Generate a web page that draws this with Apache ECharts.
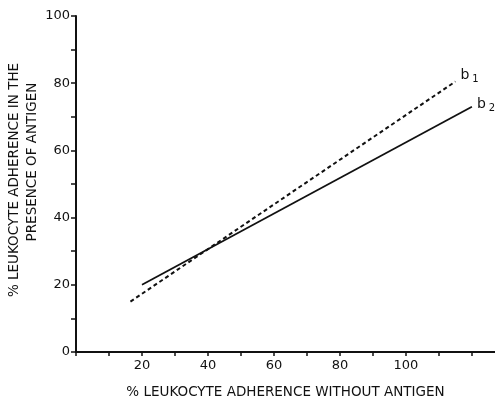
<!DOCTYPE html>
<html>
<head>
<meta charset="utf-8">
<script src="https://cdn.jsdelivr.net/npm/echarts@6/dist/echarts.min.js"></script>
<style>html,body{margin:0;padding:0;background:#fff}#c{width:495px;height:401px}</style>
</head>
<body>
<div id="c"></div>
<script>
var xLabels = [20, 40, 60, 80, 100];
var yLabels = [0, 20, 40, 60, 80, 100];
var b1X = [16.5, 115];
var b1Y = [15, 80.5];
var b2X = [20, 120];
var b2Y = [20, 73];
var xTitle = '% LEUKOCYTE ADHERENCE WITHOUT ANTIGEN';
var yTitle1 = '% LEUKOCYTE ADHERENCE IN THE';
var yTitle2 = 'PRESENCE OF ANTIGEN';

function pairs(xs, ys) { return xs.map(function (x, i) { return [x, ys[i]]; }); }

var FONT = 'DejaVu Sans';
var chart = echarts.init(document.getElementById('c'));
chart.setOption({
  animation: false,
  backgroundColor: '#fff',
  textStyle: { fontFamily: FONT, color: '#111' },
  grid: { left: 76, right: 0, top: 16, bottom: 49, containLabel: false, outerBoundsMode: 'none' },
  xAxis: {
    type: 'value', min: 0, max: 127, interval: 10,
    splitLine: { show: false },
    axisLine: { lineStyle: { color: '#111', width: 2 } },
    axisTick: { show: true, length: 4, lineStyle: { color: '#111', width: 1.5 } },
    axisLabel: {
      margin: 7, fontSize: 13, color: '#111', fontFamily: FONT,
      showMinLabel: true, showMaxLabel: false,
      formatter: function (v) { return xLabels.indexOf(v) >= 0 ? String(v) : ''; }
    },
    name: xTitle, nameLocation: 'middle', nameGap: 33,
    nameTextStyle: { fontSize: 13.5, color: '#111', fontFamily: FONT }
  },
  yAxis: {
    type: 'value', min: 0, max: 100, interval: 10,
    splitLine: { show: false },
    axisLine: { lineStyle: { color: '#111', width: 2 } },
    axisTick: { show: true, length: 5, lineStyle: { color: '#111', width: 1.5 } },
    axisLabel: {
      margin: 6, fontSize: 13, color: '#111', fontFamily: FONT,
      formatter: function (v) { return yLabels.indexOf(v) >= 0 ? String(v) : ''; }
    },
    name: '{l1|' + yTitle1 + '}\n{l2|' + yTitle2 + '}', nameLocation: 'middle', nameGap: 35, nameRotate: 90,
    nameMoveOverlap: false,
    nameTextStyle: {
      fontSize: 13.5, color: '#111', fontFamily: FONT, align: 'center',
      rich: {
        l1: { fontSize: 13.5, fontFamily: FONT, color: '#111', lineHeight: 18, padding: [0, 0, 0, 8] },
        l2: { fontSize: 13.5, fontFamily: FONT, color: '#111', lineHeight: 18, padding: [0, 0, 0, 44] }
      }
    }
  },
  series: [
    {
      name: 'b1', type: 'line', data: pairs(b1X, b1Y), symbol: 'none',
      lineStyle: { color: '#111', width: 2, type: [4, 3] },
      endLabel: {
        show: true, distance: 5, offset: [0, -6],
        formatter: '{a|b}{s|1}',
        rich: {
          a: { fontSize: 14, color: '#111', fontFamily: FONT },
          s: { fontSize: 10, color: '#111', fontFamily: FONT, padding: [8, 0, 0, 3] }
        }
      }
    },
    {
      name: 'b2', type: 'line', data: pairs(b2X, b2Y), symbol: 'none',
      lineStyle: { color: '#111', width: 1.8 },
      endLabel: {
        show: true, distance: 5, offset: [0, -2],
        formatter: '{a|b}{s|2}',
        rich: {
          a: { fontSize: 14, color: '#111', fontFamily: FONT },
          s: { fontSize: 10, color: '#111', fontFamily: FONT, padding: [8, 0, 0, 3] }
        }
      }
    }
  ]
});
</script>
</body>
</html>
